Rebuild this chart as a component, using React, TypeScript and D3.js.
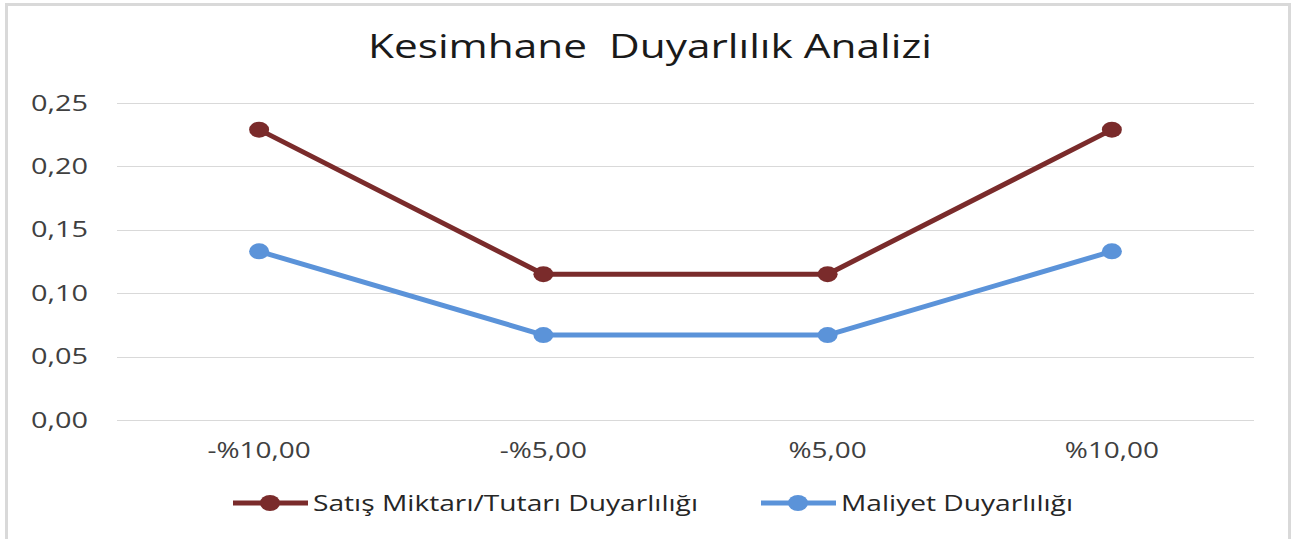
import React from 'react';
import * as d3 from 'd3';

const categories = ['-%10,00', '-%5,00', '%5,00', '%10,00'];
const satisValues = [0.229, 0.115, 0.115, 0.229];
const maliyetValues = [0.133, 0.067, 0.067, 0.133];
const yTicks = [0, 0.05, 0.1, 0.15, 0.2, 0.25];

const seriesNames = ['Satış Miktarı/Tutarı Duyarlılığı', 'Maliyet Duyarlılığı'];
const seriesColors = ['#7a2b2b', '#5b93d9'];

const W = 1291;
const H = 539;
const font = '"Open Sans", "Noto Sans", sans-serif';

const App = () => {
  const x = d3.scaleBand().domain(categories).range([117, 1254]);
  const y = d3.scaleLinear().domain([0, 0.25]).range([420, 103]);
  const fmt = (v: number) => d3.format('.2f')(v).replace('.', ',');
  const cx = (c: string) => x(c)! + x.bandwidth() / 2;

  const line = d3
    .line<number>()
    .x((_, i) => cx(categories[i]))
    .y((d) => y(d));

  const series = [satisValues, maliyetValues];

  return (
    <svg
      width={W}
      height={H}
      style={{ position: 'absolute', left: 0, top: 0, background: '#fff' }}
      fontFamily={font}
    >
      {/* chart border */}
      <rect x={6.5} y={4.5} width={1283} height={540} fill="none" stroke="#d9d9d9" strokeWidth={3} />

      <text
        x={368}
        y={58}
        fontSize={32}
        fill="#1a1a1a"
        textLength={564}
        lengthAdjust="spacingAndGlyphs"
        style={{ whiteSpace: 'pre' }}
      >
        Kesimhane  Duyarlılık Analizi
      </text>

      {/* gridlines + y labels */}
      {yTicks.map((t) => (
        <g key={t}>
          <line x1={117} x2={1254} y1={Math.round(y(t)) + 0.5} y2={Math.round(y(t)) + 0.5} stroke="#d9d9d9" strokeWidth={1} />
          <text
            x={88}
            y={y(t)}
            dy="0.36em"
            textAnchor="end"
            fontSize={21}
            fill="#404040"
            textLength={57}
            lengthAdjust="spacingAndGlyphs"
          >
            {fmt(t)}
          </text>
        </g>
      ))}

      {/* x labels, stretched horizontally like the source */}
      {categories.map((c) => (
        <text
          key={c}
          transform={`translate(${cx(c)},458) scale(1.33,1)`}
          textAnchor="middle"
          fontSize={21}
          fill="#404040"
        >
          {c}
        </text>
      ))}

      {/* series */}
      {series.map((vals, si) => (
        <g key={si}>
          <path d={line(vals)!} fill="none" stroke={seriesColors[si]} strokeWidth={5} strokeLinejoin="round" />
          {vals.map((v, i) => (
            <ellipse key={i} cx={cx(categories[i])} cy={y(v)} rx={10} ry={8} fill={seriesColors[si]} />
          ))}
        </g>
      ))}

      {/* legend */}
      {[
        { lx: 233, tx: 313, tw: 385 },
        { lx: 761, tx: 841, tw: 232 },
      ].map((l, i) => (
        <g key={i}>
          <line x1={l.lx} x2={l.lx + 75} y1={503} y2={503} stroke={seriesColors[i]} strokeWidth={5} />
          <ellipse cx={l.lx + 37} cy={503} rx={10} ry={8} fill={seriesColors[i]} />
          <text x={l.tx} y={511} fontSize={22} fill="#262626" textLength={l.tw} lengthAdjust="spacingAndGlyphs">
            {seriesNames[i]}
          </text>
        </g>
      ))}
    </svg>
  );
};

export default App;
